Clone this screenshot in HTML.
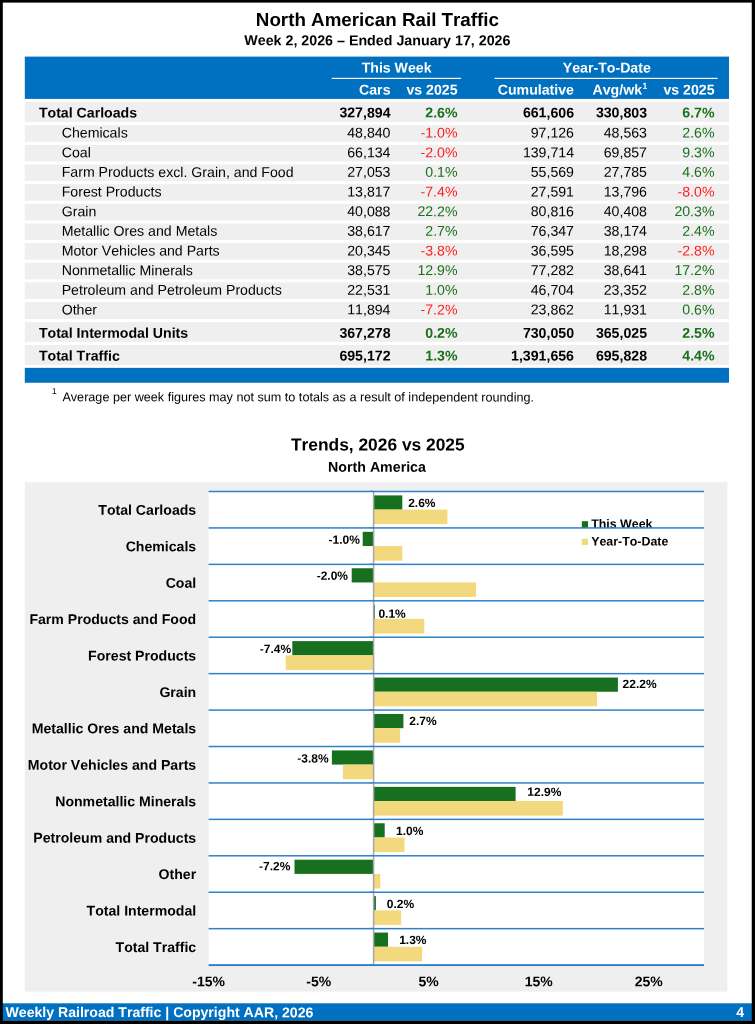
<!DOCTYPE html>
<html lang="en"><head><meta charset="utf-8"><title>North American Rail Traffic</title>
<style>
html,body{margin:0;padding:0;background:#fff}
body{width:755px;height:1024px;position:relative;overflow:hidden;font-family:"Liberation Sans",sans-serif;color:#000}
svg{position:absolute;left:0;top:0;display:block}
</style></head><body>

<svg width="755" height="1024" viewBox="0 0 755 1024" font-family="&quot;Liberation Sans&quot;, sans-serif" fill="#000" style="font-kerning:none">
<rect x="0" y="0" width="755" height="1024" fill="#fff"/>
<rect x="24.8" y="56.6" width="704.2" height="42.3" fill="#0070c0"/>
<rect x="331.7" y="77.8" width="129.3" height="1.2" fill="#fff"/>
<rect x="494.5" y="77.8" width="223.1" height="1.2" fill="#fff"/>
<rect x="24.8" y="101.80" width="704.2" height="20.20" fill="#efefef"/>
<rect x="24.8" y="125.20" width="704.2" height="16.60" fill="#efefef"/>
<rect x="24.8" y="144.85" width="704.2" height="16.60" fill="#efefef"/>
<rect x="24.8" y="164.50" width="704.2" height="16.60" fill="#efefef"/>
<rect x="24.8" y="184.15" width="704.2" height="16.60" fill="#efefef"/>
<rect x="24.8" y="203.80" width="704.2" height="16.60" fill="#efefef"/>
<rect x="24.8" y="223.45" width="704.2" height="16.60" fill="#efefef"/>
<rect x="24.8" y="243.10" width="704.2" height="16.60" fill="#efefef"/>
<rect x="24.8" y="262.75" width="704.2" height="16.60" fill="#efefef"/>
<rect x="24.8" y="282.40" width="704.2" height="16.60" fill="#efefef"/>
<rect x="24.8" y="302.05" width="704.2" height="17.00" fill="#efefef"/>
<rect x="24.8" y="322.00" width="704.2" height="19.90" fill="#efefef"/>
<rect x="24.8" y="345.00" width="704.2" height="20.00" fill="#efefef"/>
<rect x="24.8" y="367.85" width="704.2" height="14.9" fill="#0070c0"/>
<rect x="24.8" y="482.2" width="702.6" height="509.4" fill="#efefef"/>
<rect x="208.6" y="491.5" width="495.4" height="473.6" fill="#fff"/>
<rect x="373.70" y="495.40" width="28.60" height="14.2" fill="#17701f"/>
<rect x="373.70" y="509.60" width="73.70" height="14.6" fill="#f3d97d"/>
<rect x="362.70" y="531.83" width="11.00" height="14.2" fill="#17701f"/>
<rect x="373.70" y="546.03" width="28.60" height="14.6" fill="#f3d97d"/>
<rect x="351.70" y="568.26" width="22.00" height="14.2" fill="#17701f"/>
<rect x="373.70" y="582.46" width="102.30" height="14.6" fill="#f3d97d"/>
<rect x="373.70" y="604.69" width="1.10" height="14.2" fill="#17701f"/>
<rect x="373.70" y="618.89" width="50.60" height="14.6" fill="#f3d97d"/>
<rect x="292.30" y="641.12" width="81.40" height="14.2" fill="#17701f"/>
<rect x="285.70" y="655.32" width="88.00" height="14.6" fill="#f3d97d"/>
<rect x="373.70" y="677.55" width="244.20" height="14.2" fill="#17701f"/>
<rect x="373.70" y="691.75" width="223.30" height="14.6" fill="#f3d97d"/>
<rect x="373.70" y="713.98" width="29.70" height="14.2" fill="#17701f"/>
<rect x="373.70" y="728.18" width="26.40" height="14.6" fill="#f3d97d"/>
<rect x="331.90" y="750.41" width="41.80" height="14.2" fill="#17701f"/>
<rect x="342.90" y="764.61" width="30.80" height="14.6" fill="#f3d97d"/>
<rect x="373.70" y="786.84" width="141.90" height="14.2" fill="#17701f"/>
<rect x="373.70" y="801.04" width="189.20" height="14.6" fill="#f3d97d"/>
<rect x="373.70" y="823.27" width="11.00" height="14.2" fill="#17701f"/>
<rect x="373.70" y="837.47" width="30.80" height="14.6" fill="#f3d97d"/>
<rect x="294.50" y="859.70" width="79.20" height="14.2" fill="#17701f"/>
<rect x="373.70" y="873.90" width="6.60" height="14.6" fill="#f3d97d"/>
<rect x="373.70" y="896.13" width="2.20" height="14.2" fill="#17701f"/>
<rect x="373.70" y="910.33" width="27.50" height="14.6" fill="#f3d97d"/>
<rect x="373.70" y="932.56" width="14.30" height="14.2" fill="#17701f"/>
<rect x="373.70" y="946.76" width="48.40" height="14.6" fill="#f3d97d"/>
<text x="591.20" y="528.00" transform="rotate(0.03 591.20 528.00)" font-size="12.4" font-weight="bold">This Week</text>
<text x="591.20" y="545.50" transform="rotate(0.03 591.20 545.50)" font-size="12.4" font-weight="bold">Year-To-Date</text>
<rect x="372.85" y="491.5" width="1.5" height="473.6" fill="#a6a6a6"/>
<rect x="369.50" y="490.60" width="4" height="1.2" fill="#a6a6a6"/>
<rect x="369.50" y="527.03" width="4" height="1.2" fill="#a6a6a6"/>
<rect x="369.50" y="563.46" width="4" height="1.2" fill="#a6a6a6"/>
<rect x="369.50" y="599.89" width="4" height="1.2" fill="#a6a6a6"/>
<rect x="369.50" y="636.32" width="4" height="1.2" fill="#a6a6a6"/>
<rect x="369.50" y="672.75" width="4" height="1.2" fill="#a6a6a6"/>
<rect x="369.50" y="709.18" width="4" height="1.2" fill="#a6a6a6"/>
<rect x="369.50" y="745.61" width="4" height="1.2" fill="#a6a6a6"/>
<rect x="369.50" y="782.04" width="4" height="1.2" fill="#a6a6a6"/>
<rect x="369.50" y="818.47" width="4" height="1.2" fill="#a6a6a6"/>
<rect x="369.50" y="854.90" width="4" height="1.2" fill="#a6a6a6"/>
<rect x="369.50" y="891.33" width="4" height="1.2" fill="#a6a6a6"/>
<rect x="369.50" y="927.76" width="4" height="1.2" fill="#a6a6a6"/>
<rect x="369.50" y="964.19" width="4" height="1.2" fill="#a6a6a6"/>
<rect x="208.6" y="490.75" width="495.4" height="1.5" fill="#2f82c9"/>
<rect x="208.6" y="527.18" width="495.4" height="1.5" fill="#2f82c9"/>
<rect x="208.6" y="563.61" width="495.4" height="1.5" fill="#2f82c9"/>
<rect x="208.6" y="600.04" width="495.4" height="1.5" fill="#2f82c9"/>
<rect x="208.6" y="636.47" width="495.4" height="1.5" fill="#2f82c9"/>
<rect x="208.6" y="672.90" width="495.4" height="1.5" fill="#2f82c9"/>
<rect x="208.6" y="709.33" width="495.4" height="1.5" fill="#2f82c9"/>
<rect x="208.6" y="745.76" width="495.4" height="1.5" fill="#2f82c9"/>
<rect x="208.6" y="782.19" width="495.4" height="1.5" fill="#2f82c9"/>
<rect x="208.6" y="818.62" width="495.4" height="1.5" fill="#2f82c9"/>
<rect x="208.6" y="855.05" width="495.4" height="1.5" fill="#2f82c9"/>
<rect x="208.6" y="891.48" width="495.4" height="1.5" fill="#2f82c9"/>
<rect x="208.6" y="927.91" width="495.4" height="1.5" fill="#2f82c9"/>
<rect x="208.6" y="964.14" width="495.4" height="1.9" fill="#2f82c9"/>
<rect x="581.8" y="521.2" width="6.2" height="6.3" fill="#17701f"/>
<rect x="581.8" y="538.7" width="6.2" height="6.3" fill="#f3d97d"/>
<rect x="0" y="1003.3" width="755" height="17.4" fill="#0070c0"/>
<rect x="0" y="0" width="755" height="2.6" fill="#000"/>
<rect x="0" y="0" width="2.8" height="1024" fill="#000"/>
<rect x="751.75" y="0" width="3.25" height="1024" fill="#000"/>
<rect x="0" y="1020.6" width="755" height="3.4" fill="#000"/>
<text x="377.40" y="26.00" transform="rotate(0.03 377.40 26.00)" font-size="18.8" font-weight="bold" text-anchor="middle">North American Rail Traffic</text>
<text x="377.40" y="45.20" transform="rotate(0.03 377.40 45.20)" font-size="14.25" font-weight="bold" text-anchor="middle">Week 2, 2026 – Ended January 17, 2026</text>
<text x="396.60" y="72.50" transform="rotate(0.03 396.60 72.50)" font-size="14.15" font-weight="bold" text-anchor="middle" fill="#fff">This Week</text>
<text x="606.80" y="72.50" transform="rotate(0.03 606.80 72.50)" font-size="14.15" font-weight="bold" text-anchor="middle" fill="#fff">Year-To-Date</text>
<text x="390.50" y="94.60" transform="rotate(0.03 390.50 94.60)" font-size="14.15" font-weight="bold" text-anchor="end" fill="#fff">Cars</text>
<text x="457.50" y="94.60" transform="rotate(0.03 457.50 94.60)" font-size="14.15" font-weight="bold" text-anchor="end" fill="#fff">vs 2025</text>
<text x="574.00" y="94.60" transform="rotate(0.03 574.00 94.60)" font-size="14.15" font-weight="bold" text-anchor="end" fill="#fff">Cumulative</text>
<text x="647.20" y="94.60" transform="rotate(0.03 647.20 94.60)" font-size="14.15" font-weight="bold" text-anchor="end" fill="#fff">Avg/wk<tspan font-size="8.6" dy="-5.9" dx="0.4">1</tspan></text>
<text x="714.50" y="94.60" transform="rotate(0.03 714.50 94.60)" font-size="14.15" font-weight="bold" text-anchor="end" fill="#fff">vs 2025</text>
<text x="38.90" y="117.40" transform="rotate(0.03 38.90 117.40)" font-size="14.15" font-weight="bold">Total Carloads</text>
<text x="390.50" y="117.40" transform="rotate(0.03 390.50 117.40)" font-size="14.15" font-weight="bold" text-anchor="end">327,894</text>
<text x="457.50" y="117.40" transform="rotate(0.03 457.50 117.40)" font-size="14.15" font-weight="bold" text-anchor="end" fill="#1a701a">2.6%</text>
<text x="574.00" y="117.40" transform="rotate(0.03 574.00 117.40)" font-size="14.15" font-weight="bold" text-anchor="end">661,606</text>
<text x="647.00" y="117.40" transform="rotate(0.03 647.00 117.40)" font-size="14.15" font-weight="bold" text-anchor="end">330,803</text>
<text x="714.50" y="117.40" transform="rotate(0.03 714.50 117.40)" font-size="14.15" font-weight="bold" text-anchor="end" fill="#1a701a">6.7%</text>
<text x="61.70" y="137.55" transform="rotate(0.03 61.70 137.55)" font-size="14.15">Chemicals</text>
<text x="390.50" y="137.55" transform="rotate(0.03 390.50 137.55)" font-size="14.15" text-anchor="end">48,840</text>
<text x="457.50" y="137.55" transform="rotate(0.03 457.50 137.55)" font-size="14.15" text-anchor="end" fill="#ff1f1f">-1.0%</text>
<text x="574.00" y="137.55" transform="rotate(0.03 574.00 137.55)" font-size="14.15" text-anchor="end">97,126</text>
<text x="647.00" y="137.55" transform="rotate(0.03 647.00 137.55)" font-size="14.15" text-anchor="end">48,563</text>
<text x="714.50" y="137.55" transform="rotate(0.03 714.50 137.55)" font-size="14.15" text-anchor="end" fill="#1a701a">2.6%</text>
<text x="61.70" y="157.20" transform="rotate(0.03 61.70 157.20)" font-size="14.15">Coal</text>
<text x="390.50" y="157.20" transform="rotate(0.03 390.50 157.20)" font-size="14.15" text-anchor="end">66,134</text>
<text x="457.50" y="157.20" transform="rotate(0.03 457.50 157.20)" font-size="14.15" text-anchor="end" fill="#ff1f1f">-2.0%</text>
<text x="574.00" y="157.20" transform="rotate(0.03 574.00 157.20)" font-size="14.15" text-anchor="end">139,714</text>
<text x="647.00" y="157.20" transform="rotate(0.03 647.00 157.20)" font-size="14.15" text-anchor="end">69,857</text>
<text x="714.50" y="157.20" transform="rotate(0.03 714.50 157.20)" font-size="14.15" text-anchor="end" fill="#1a701a">9.3%</text>
<text x="61.70" y="176.85" transform="rotate(0.03 61.70 176.85)" font-size="14.15">Farm Products excl. Grain, and Food</text>
<text x="390.50" y="176.85" transform="rotate(0.03 390.50 176.85)" font-size="14.15" text-anchor="end">27,053</text>
<text x="457.50" y="176.85" transform="rotate(0.03 457.50 176.85)" font-size="14.15" text-anchor="end" fill="#1a701a">0.1%</text>
<text x="574.00" y="176.85" transform="rotate(0.03 574.00 176.85)" font-size="14.15" text-anchor="end">55,569</text>
<text x="647.00" y="176.85" transform="rotate(0.03 647.00 176.85)" font-size="14.15" text-anchor="end">27,785</text>
<text x="714.50" y="176.85" transform="rotate(0.03 714.50 176.85)" font-size="14.15" text-anchor="end" fill="#1a701a">4.6%</text>
<text x="61.70" y="196.50" transform="rotate(0.03 61.70 196.50)" font-size="14.15">Forest Products</text>
<text x="390.50" y="196.50" transform="rotate(0.03 390.50 196.50)" font-size="14.15" text-anchor="end">13,817</text>
<text x="457.50" y="196.50" transform="rotate(0.03 457.50 196.50)" font-size="14.15" text-anchor="end" fill="#ff1f1f">-7.4%</text>
<text x="574.00" y="196.50" transform="rotate(0.03 574.00 196.50)" font-size="14.15" text-anchor="end">27,591</text>
<text x="647.00" y="196.50" transform="rotate(0.03 647.00 196.50)" font-size="14.15" text-anchor="end">13,796</text>
<text x="714.50" y="196.50" transform="rotate(0.03 714.50 196.50)" font-size="14.15" text-anchor="end" fill="#ff1f1f">-8.0%</text>
<text x="61.70" y="216.15" transform="rotate(0.03 61.70 216.15)" font-size="14.15">Grain</text>
<text x="390.50" y="216.15" transform="rotate(0.03 390.50 216.15)" font-size="14.15" text-anchor="end">40,088</text>
<text x="457.50" y="216.15" transform="rotate(0.03 457.50 216.15)" font-size="14.15" text-anchor="end" fill="#1a701a">22.2%</text>
<text x="574.00" y="216.15" transform="rotate(0.03 574.00 216.15)" font-size="14.15" text-anchor="end">80,816</text>
<text x="647.00" y="216.15" transform="rotate(0.03 647.00 216.15)" font-size="14.15" text-anchor="end">40,408</text>
<text x="714.50" y="216.15" transform="rotate(0.03 714.50 216.15)" font-size="14.15" text-anchor="end" fill="#1a701a">20.3%</text>
<text x="61.70" y="235.80" transform="rotate(0.03 61.70 235.80)" font-size="14.15">Metallic Ores and Metals</text>
<text x="390.50" y="235.80" transform="rotate(0.03 390.50 235.80)" font-size="14.15" text-anchor="end">38,617</text>
<text x="457.50" y="235.80" transform="rotate(0.03 457.50 235.80)" font-size="14.15" text-anchor="end" fill="#1a701a">2.7%</text>
<text x="574.00" y="235.80" transform="rotate(0.03 574.00 235.80)" font-size="14.15" text-anchor="end">76,347</text>
<text x="647.00" y="235.80" transform="rotate(0.03 647.00 235.80)" font-size="14.15" text-anchor="end">38,174</text>
<text x="714.50" y="235.80" transform="rotate(0.03 714.50 235.80)" font-size="14.15" text-anchor="end" fill="#1a701a">2.4%</text>
<text x="61.70" y="255.45" transform="rotate(0.03 61.70 255.45)" font-size="14.15">Motor Vehicles and Parts</text>
<text x="390.50" y="255.45" transform="rotate(0.03 390.50 255.45)" font-size="14.15" text-anchor="end">20,345</text>
<text x="457.50" y="255.45" transform="rotate(0.03 457.50 255.45)" font-size="14.15" text-anchor="end" fill="#ff1f1f">-3.8%</text>
<text x="574.00" y="255.45" transform="rotate(0.03 574.00 255.45)" font-size="14.15" text-anchor="end">36,595</text>
<text x="647.00" y="255.45" transform="rotate(0.03 647.00 255.45)" font-size="14.15" text-anchor="end">18,298</text>
<text x="714.50" y="255.45" transform="rotate(0.03 714.50 255.45)" font-size="14.15" text-anchor="end" fill="#ff1f1f">-2.8%</text>
<text x="61.70" y="275.10" transform="rotate(0.03 61.70 275.10)" font-size="14.15">Nonmetallic Minerals</text>
<text x="390.50" y="275.10" transform="rotate(0.03 390.50 275.10)" font-size="14.15" text-anchor="end">38,575</text>
<text x="457.50" y="275.10" transform="rotate(0.03 457.50 275.10)" font-size="14.15" text-anchor="end" fill="#1a701a">12.9%</text>
<text x="574.00" y="275.10" transform="rotate(0.03 574.00 275.10)" font-size="14.15" text-anchor="end">77,282</text>
<text x="647.00" y="275.10" transform="rotate(0.03 647.00 275.10)" font-size="14.15" text-anchor="end">38,641</text>
<text x="714.50" y="275.10" transform="rotate(0.03 714.50 275.10)" font-size="14.15" text-anchor="end" fill="#1a701a">17.2%</text>
<text x="61.70" y="294.75" transform="rotate(0.03 61.70 294.75)" font-size="14.15">Petroleum and Petroleum Products</text>
<text x="390.50" y="294.75" transform="rotate(0.03 390.50 294.75)" font-size="14.15" text-anchor="end">22,531</text>
<text x="457.50" y="294.75" transform="rotate(0.03 457.50 294.75)" font-size="14.15" text-anchor="end" fill="#1a701a">1.0%</text>
<text x="574.00" y="294.75" transform="rotate(0.03 574.00 294.75)" font-size="14.15" text-anchor="end">46,704</text>
<text x="647.00" y="294.75" transform="rotate(0.03 647.00 294.75)" font-size="14.15" text-anchor="end">23,352</text>
<text x="714.50" y="294.75" transform="rotate(0.03 714.50 294.75)" font-size="14.15" text-anchor="end" fill="#1a701a">2.8%</text>
<text x="61.70" y="314.40" transform="rotate(0.03 61.70 314.40)" font-size="14.15">Other</text>
<text x="390.50" y="314.40" transform="rotate(0.03 390.50 314.40)" font-size="14.15" text-anchor="end">11,894</text>
<text x="457.50" y="314.40" transform="rotate(0.03 457.50 314.40)" font-size="14.15" text-anchor="end" fill="#ff1f1f">-7.2%</text>
<text x="574.00" y="314.40" transform="rotate(0.03 574.00 314.40)" font-size="14.15" text-anchor="end">23,862</text>
<text x="647.00" y="314.40" transform="rotate(0.03 647.00 314.40)" font-size="14.15" text-anchor="end">11,931</text>
<text x="714.50" y="314.40" transform="rotate(0.03 714.50 314.40)" font-size="14.15" text-anchor="end" fill="#1a701a">0.6%</text>
<text x="38.90" y="337.70" transform="rotate(0.03 38.90 337.70)" font-size="14.15" font-weight="bold">Total Intermodal Units</text>
<text x="390.50" y="337.70" transform="rotate(0.03 390.50 337.70)" font-size="14.15" font-weight="bold" text-anchor="end">367,278</text>
<text x="457.50" y="337.70" transform="rotate(0.03 457.50 337.70)" font-size="14.15" font-weight="bold" text-anchor="end" fill="#1a701a">0.2%</text>
<text x="574.00" y="337.70" transform="rotate(0.03 574.00 337.70)" font-size="14.15" font-weight="bold" text-anchor="end">730,050</text>
<text x="647.00" y="337.70" transform="rotate(0.03 647.00 337.70)" font-size="14.15" font-weight="bold" text-anchor="end">365,025</text>
<text x="714.50" y="337.70" transform="rotate(0.03 714.50 337.70)" font-size="14.15" font-weight="bold" text-anchor="end" fill="#1a701a">2.5%</text>
<text x="38.90" y="360.60" transform="rotate(0.03 38.90 360.60)" font-size="14.15" font-weight="bold">Total Traffic</text>
<text x="390.50" y="360.60" transform="rotate(0.03 390.50 360.60)" font-size="14.15" font-weight="bold" text-anchor="end">695,172</text>
<text x="457.50" y="360.60" transform="rotate(0.03 457.50 360.60)" font-size="14.15" font-weight="bold" text-anchor="end" fill="#1a701a">1.3%</text>
<text x="574.00" y="360.60" transform="rotate(0.03 574.00 360.60)" font-size="14.15" font-weight="bold" text-anchor="end">1,391,656</text>
<text x="647.00" y="360.60" transform="rotate(0.03 647.00 360.60)" font-size="14.15" font-weight="bold" text-anchor="end">695,828</text>
<text x="714.50" y="360.60" transform="rotate(0.03 714.50 360.60)" font-size="14.15" font-weight="bold" text-anchor="end" fill="#1a701a">4.4%</text>
<text x="52.10" y="394.00" transform="rotate(0.03 52.10 394.00)" font-size="8.5">1</text>
<text x="62.40" y="401.20" transform="rotate(0.03 62.40 401.20)" font-size="12.63">Average per week figures may not sum to totals as a result of independent rounding.</text>
<text x="377.80" y="450.50" transform="rotate(0.03 377.80 450.50)" font-size="17.35" font-weight="bold" text-anchor="middle">Trends, 2026 vs 2025</text>
<text x="377.00" y="471.70" transform="rotate(0.03 377.00 471.70)" font-size="14.2" font-weight="bold" text-anchor="middle">North America</text>
<text x="196.20" y="514.81" transform="rotate(0.03 196.20 514.81)" font-size="14.1" font-weight="bold" text-anchor="end">Total Carloads</text>
<text x="435.50" y="506.90" transform="rotate(0.03 435.50 506.90)" font-size="12" font-weight="bold" text-anchor="end">2.6%</text>
<text x="196.20" y="551.25" transform="rotate(0.03 196.20 551.25)" font-size="14.1" font-weight="bold" text-anchor="end">Chemicals</text>
<text x="359.90" y="543.80" transform="rotate(0.03 359.90 543.80)" font-size="12" font-weight="bold" text-anchor="end">-1.0%</text>
<text x="196.20" y="587.68" transform="rotate(0.03 196.20 587.68)" font-size="14.1" font-weight="bold" text-anchor="end">Coal</text>
<text x="348.00" y="579.80" transform="rotate(0.03 348.00 579.80)" font-size="12" font-weight="bold" text-anchor="end">-2.0%</text>
<text x="196.20" y="624.11" transform="rotate(0.03 196.20 624.11)" font-size="14.1" font-weight="bold" text-anchor="end">Farm Products and Food</text>
<text x="405.80" y="617.80" transform="rotate(0.03 405.80 617.80)" font-size="12" font-weight="bold" text-anchor="end">0.1%</text>
<text x="196.20" y="660.54" transform="rotate(0.03 196.20 660.54)" font-size="14.1" font-weight="bold" text-anchor="end">Forest Products</text>
<text x="291.20" y="653.10" transform="rotate(0.03 291.20 653.10)" font-size="12" font-weight="bold" text-anchor="end">-7.4%</text>
<text x="196.20" y="696.97" transform="rotate(0.03 196.20 696.97)" font-size="14.1" font-weight="bold" text-anchor="end">Grain</text>
<text x="656.60" y="688.00" transform="rotate(0.03 656.60 688.00)" font-size="12" font-weight="bold" text-anchor="end">22.2%</text>
<text x="196.20" y="733.39" transform="rotate(0.03 196.20 733.39)" font-size="14.1" font-weight="bold" text-anchor="end">Metallic Ores and Metals</text>
<text x="436.60" y="725.00" transform="rotate(0.03 436.60 725.00)" font-size="12" font-weight="bold" text-anchor="end">2.7%</text>
<text x="196.20" y="769.83" transform="rotate(0.03 196.20 769.83)" font-size="14.1" font-weight="bold" text-anchor="end">Motor Vehicles and Parts</text>
<text x="328.60" y="762.40" transform="rotate(0.03 328.60 762.40)" font-size="12" font-weight="bold" text-anchor="end">-3.8%</text>
<text x="196.20" y="806.26" transform="rotate(0.03 196.20 806.26)" font-size="14.1" font-weight="bold" text-anchor="end">Nonmetallic Minerals</text>
<text x="561.40" y="795.90" transform="rotate(0.03 561.40 795.90)" font-size="12" font-weight="bold" text-anchor="end">12.9%</text>
<text x="196.20" y="842.69" transform="rotate(0.03 196.20 842.69)" font-size="14.1" font-weight="bold" text-anchor="end">Petroleum and Products</text>
<text x="423.40" y="835.00" transform="rotate(0.03 423.40 835.00)" font-size="12" font-weight="bold" text-anchor="end">1.0%</text>
<text x="196.20" y="879.12" transform="rotate(0.03 196.20 879.12)" font-size="14.1" font-weight="bold" text-anchor="end">Other</text>
<text x="290.40" y="870.30" transform="rotate(0.03 290.40 870.30)" font-size="12" font-weight="bold" text-anchor="end">-7.2%</text>
<text x="196.20" y="915.55" transform="rotate(0.03 196.20 915.55)" font-size="14.1" font-weight="bold" text-anchor="end">Total Intermodal</text>
<text x="414.20" y="908.00" transform="rotate(0.03 414.20 908.00)" font-size="12" font-weight="bold" text-anchor="end">0.2%</text>
<text x="196.20" y="951.98" transform="rotate(0.03 196.20 951.98)" font-size="14.1" font-weight="bold" text-anchor="end">Total Traffic</text>
<text x="426.50" y="944.10" transform="rotate(0.03 426.50 944.10)" font-size="12" font-weight="bold" text-anchor="end">1.3%</text>
<text x="208.70" y="986.20" transform="rotate(0.03 208.70 986.20)" font-size="14" font-weight="bold" text-anchor="middle">-15%</text>
<text x="318.70" y="986.20" transform="rotate(0.03 318.70 986.20)" font-size="14" font-weight="bold" text-anchor="middle">-5%</text>
<text x="428.70" y="986.20" transform="rotate(0.03 428.70 986.20)" font-size="14" font-weight="bold" text-anchor="middle">5%</text>
<text x="538.70" y="986.20" transform="rotate(0.03 538.70 986.20)" font-size="14" font-weight="bold" text-anchor="middle">15%</text>
<text x="648.70" y="986.20" transform="rotate(0.03 648.70 986.20)" font-size="14" font-weight="bold" text-anchor="middle">25%</text>
<text x="5.50" y="1017.00" transform="rotate(0.03 5.50 1017.00)" font-size="14.1" font-weight="bold" fill="#fff">Weekly Railroad Traffic | Copyright AAR, 2026</text>
<text x="744.00" y="1017.00" transform="rotate(0.03 744.00 1017.00)" font-size="14.15" font-weight="bold" text-anchor="end" fill="#fff">4</text>
</svg>
</body></html>
